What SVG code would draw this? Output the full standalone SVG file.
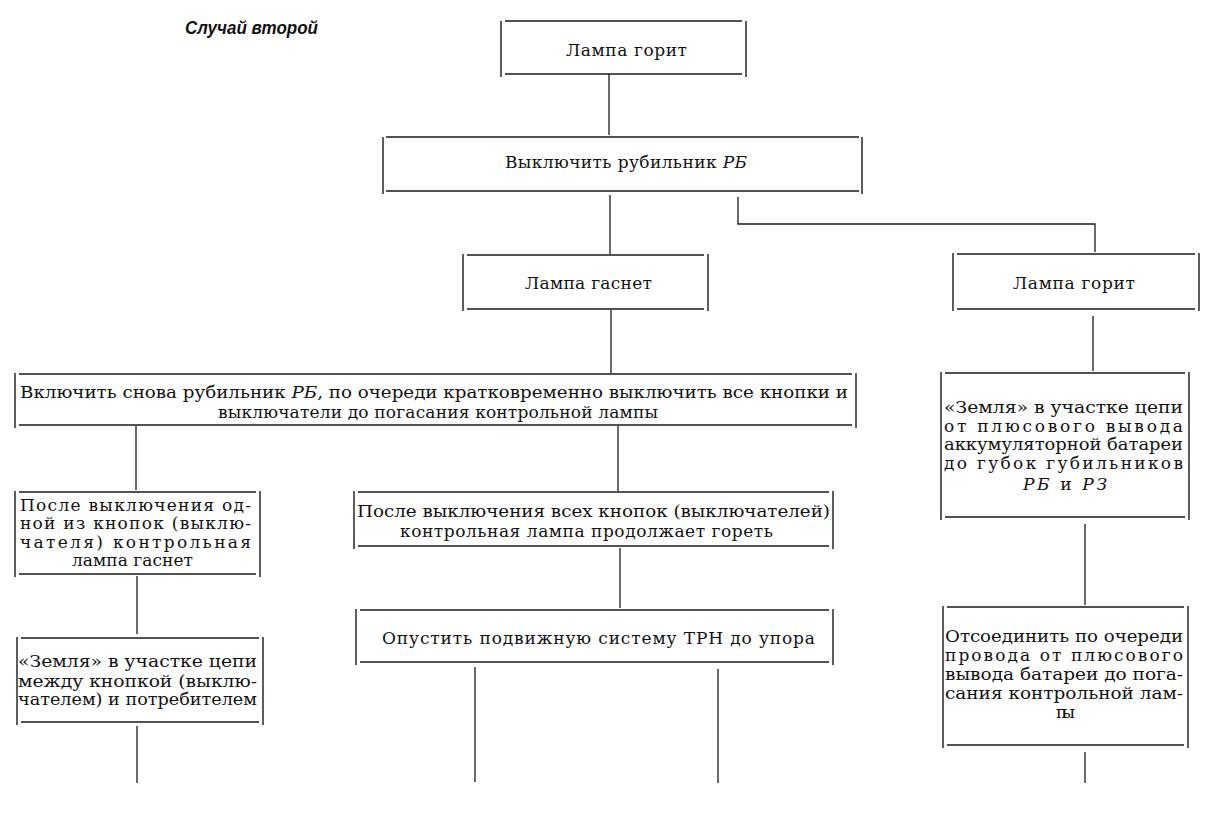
<svg xmlns="http://www.w3.org/2000/svg" width="1222" height="819" viewBox="0 0 1222 819">
<style>
.b{fill:none;stroke:#1a1a1a;stroke-width:1.4}
.c{fill:none;stroke:#1a1a1a;stroke-width:1.3}
text{font-family:"DejaVu Serif","Liberation Serif",serif;font-size:17px;fill:#111}
.n{font-size:16px}
.i{font-style:italic}
.t{font-family:"Liberation Sans","DejaVu Sans",sans-serif;font-style:italic;font-weight:bold;font-size:19px}
</style>
<rect width="1222" height="819" fill="#fff"/>
<text class="t" x="185" y="34" textLength="133" lengthAdjust="spacingAndGlyphs">Случай второй</text>

<g id="connectors">
<path class="c" d="M609 74V135"/>
<path class="c" d="M610 195V254"/>
<path class="c" d="M738 197V224H1095V252"/>
<path class="c" d="M611 310V373"/>
<path class="c" d="M1093 316V371"/>
<path class="c" d="M136 426V490"/>
<path class="c" d="M618 426V491"/>
<path class="c" d="M137 576V634"/>
<path class="c" d="M620 548V608"/>
<path class="c" d="M1085 524V605"/>
<path class="c" d="M137 726V783"/>
<path class="c" d="M475 667V782"/>
<path class="c" d="M718 669V783"/>
<path class="c" d="M1085 752V783"/>
</g>

<g id="n1">
<path class="b" d="M505 21H742M505 74H742M501 21V77M746 21V77"/>
<text x="566" y="56" textLength="121" lengthAdjust="spacing">Лампа горит</text>
</g>
<g id="n2">
<path class="b" d="M386 137H859M386 191H859M383 137V194M862 137V194"/>
<text x="505" y="168" textLength="242" lengthAdjust="spacing">Выключить рубильник <tspan class="i">РБ</tspan></text>
</g>
<g id="n3">
<path class="b" d="M467 255H704M467 309H704M463 254V311M708 254V311"/>
<text x="525" y="289" textLength="127" lengthAdjust="spacing">Лампа гаснет</text>
</g>
<g id="n4">
<path class="b" d="M957 254H1195M957 309H1195M953 253V311M1199 253V311"/>
<text x="1013" y="289" textLength="122" lengthAdjust="spacing">Лампа горит</text>
</g>
<g id="n5">
<path class="b" d="M19 374H852M19 425H852M15 373V428M856 373V428"/>
<text x="20" y="398" textLength="828" lengthAdjust="spacingAndGlyphs">Включить снова рубильник <tspan class="i">РБ</tspan>, по очереди кратковременно выключить все кнопки и</text>
<text x="218" y="418" textLength="440" lengthAdjust="spacing">выключатели до погасания контрольной лампы</text>
</g>
<g id="n6">
<path class="b" d="M19 492H256M19 574H256M15 491V577M260 491V577"/>
<text x="20" y="511" textLength="231" lengthAdjust="spacing">После выключения од-</text>
<text x="20" y="529" textLength="231" lengthAdjust="spacing">ной из кнопок (выклю-</text>
<text x="20" y="548" textLength="231" lengthAdjust="spacing">чателя) контрольная</text>
<text x="72" y="566" textLength="121" lengthAdjust="spacing">лампа гаснет</text>
</g>
<g id="n7">
<path class="b" d="M358 492H829M358 546H829M354 491V549M833 491V549"/>
<text x="357" y="517" textLength="473" lengthAdjust="spacingAndGlyphs">После выключения всех кнопок (выключателей)</text>
<text x="400" y="537" textLength="373" lengthAdjust="spacing">контрольная лампа продолжает гореть</text>
</g>
<g id="n8">
<path class="b" d="M945 373H1185M945 517H1185M941 372V520M1189 372V520"/>
<text class="n" x="944" y="413" textLength="239" lengthAdjust="spacingAndGlyphs">«Земля» в участке цепи</text>
<text x="944" y="432" textLength="239" lengthAdjust="spacing">от плюсового вывода</text>
<text class="n" x="944" y="450" textLength="239" lengthAdjust="spacingAndGlyphs">аккумуляторной батареи</text>
<text x="944" y="469" textLength="239" lengthAdjust="spacing">до губок губильников</text>
<text x="1023" y="490" textLength="84" lengthAdjust="spacing"><tspan class="i">РБ</tspan> и <tspan class="i">РЗ</tspan></text>
</g>
<g id="n9">
<path class="b" d="M360 610H829M360 662H829M356 609V665M833 609V665"/>
<text x="382" y="644" textLength="433" lengthAdjust="spacing">Опустить подвижную систему ТРН до упора</text>
</g>
<g id="n10">
<path class="b" d="M21 638H259M21 722H259M17 637V725M263 637V725"/>
<text class="n" x="18" y="667" textLength="239" lengthAdjust="spacingAndGlyphs">«Земля» в участке цепи</text>
<text class="n" x="18" y="687" textLength="239" lengthAdjust="spacingAndGlyphs">между кнопкой (выклю-</text>
<text class="n" x="18" y="705" textLength="239" lengthAdjust="spacingAndGlyphs">чателем) и потребителем</text>
</g>
<g id="n11">
<path class="b" d="M947 607H1184M947 745H1184M943 606V748M1188 606V748"/>
<text class="n" x="945" y="642" textLength="238" lengthAdjust="spacingAndGlyphs">Отсоединить по очереди</text>
<text x="945" y="661" textLength="238" lengthAdjust="spacing">провода от плюсового</text>
<text class="n" x="945" y="680" textLength="238" lengthAdjust="spacingAndGlyphs">вывода батареи до пога-</text>
<text class="n" x="945" y="699" textLength="238" lengthAdjust="spacingAndGlyphs">сания контрольной лам-</text>
<text x="1056" y="718" textLength="19" lengthAdjust="spacing">пы</text>
</g>
</svg>
